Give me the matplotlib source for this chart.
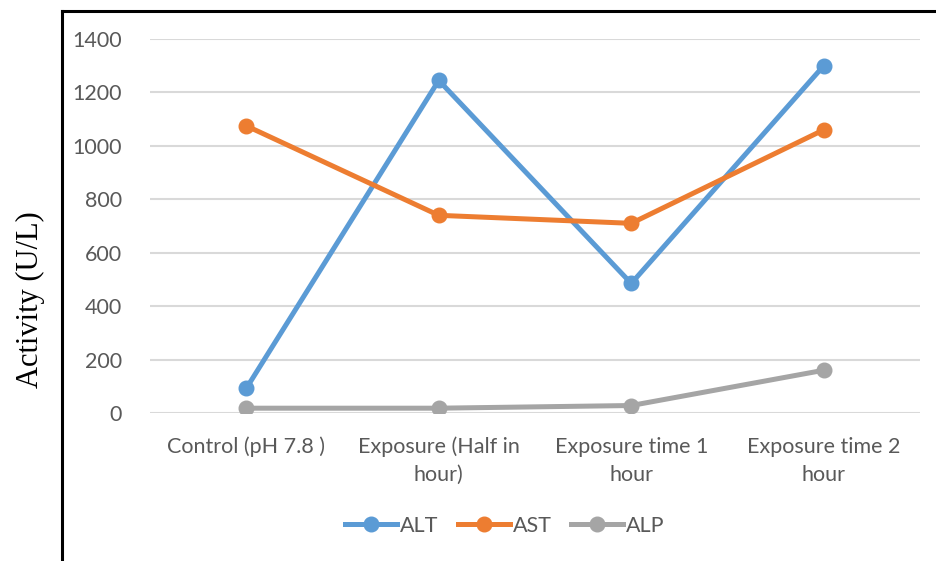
import matplotlib.pyplot as plt
from matplotlib.lines import Line2D

# data
categories = ['Control (pH 7.8 )', 'Exposure (Half in\nhour)',
              'Exposure time 1\nhour', 'Exposure time 2\nhour']
alt = [92, 1245, 485, 1300]
ast = [1075, 740, 710, 1060]
alp = [18, 18, 28, 160]
series_names = ['ALT', 'AST', 'ALP']
colors = ['#5B9BD5', '#ED7D31', '#A5A5A5']

W, H = 937, 561
fig = plt.figure(figsize=(W / 100, H / 100), dpi=100)
ax = fig.add_axes([150 / W, 1 - 413 / H, 770 / W, (413 - 39) / H])

x = list(range(len(categories)))
for vals, name, c in zip([alt, ast, alp], series_names, colors):
    ax.plot(x, vals, color=c, lw=3.6, marker='o', markersize=10.5,
            solid_capstyle='round', label=name, zorder=3)

ax.set_xlim(-0.5, len(categories) - 0.5)
ax.set_ylim(0, 1400)
ax.set_yticks(range(0, 1401, 200))
ax.set_xticks(x)
ax.set_xticklabels(categories, fontsize=15.5, family='Lato', color='#595959',
                   linespacing=1.5)
for lab in ax.get_yticklabels():
    lab.set_fontsize(15.5)
    lab.set_family('Lato')
    lab.set_color('#595959')
ax.tick_params(axis='both', length=0)
ax.tick_params(axis='y', pad=20)
ax.tick_params(axis='x', pad=17)
ax.grid(axis='y', color='#D9D9D9', lw=1.5)
ax.set_axisbelow(True)
for s in ax.spines.values():
    s.set_visible(False)

fig.text(30 / W, 1 - 300 / H, 'Activity (U/L)', rotation=90, fontsize=22,
         family='Liberation Serif', ha='center', va='center')

handles = [Line2D([], [], color=c, lw=3.6, marker='o', markersize=10.5)
           for c in colors]
fig.legend(handles, series_names, loc='center', ncol=3,
           bbox_to_anchor=(505 / W, 1 - 526 / H), frameon=False,
           prop={'family': 'Lato', 'size': 15.5}, labelcolor='#595959',
           handlelength=2.4, handletextpad=0.15, columnspacing=0.9)

# frame lines (only left and top visible in the crop)
fig.add_artist(Line2D([62 / W, 62 / W], [0, 1 - 11 / H], color='black', lw=2.2))
fig.add_artist(Line2D([62 / W, 1], [1 - 11 / H, 1 - 11 / H], color='black', lw=2.2))

fig.savefig('out.png', dpi=100)
